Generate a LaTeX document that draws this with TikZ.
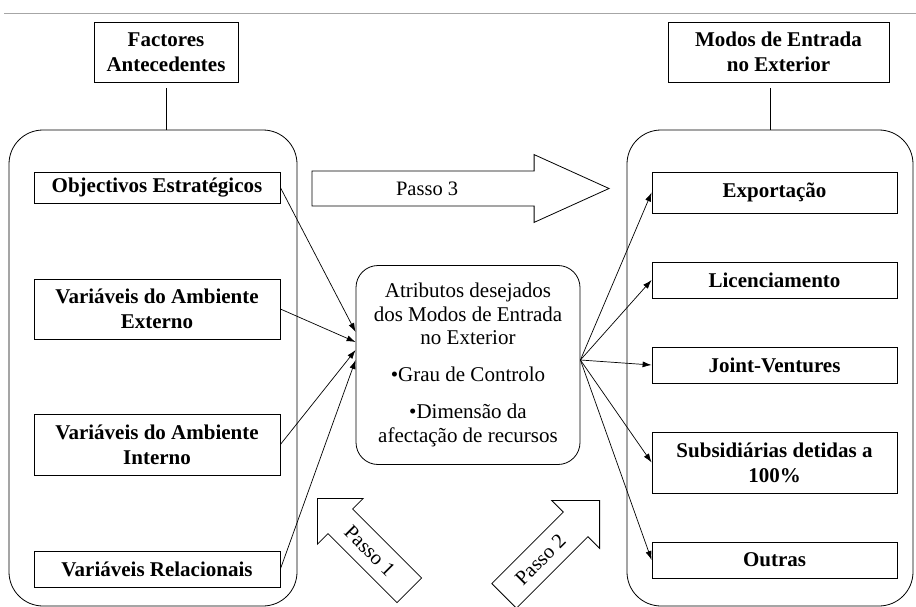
\documentclass[tikz,border=0pt]{standalone}
\usepackage{fontspec}
\setmainfont{Liberation Serif}
\usetikzlibrary{positioning, arrows.meta, shapes.arrows, calc}

\begin{document}
\begin{tikzpicture}[
    x=1pt, y=-1pt,
    header/.style={
      draw, line width=0.8pt, rectangle, align=center, inner sep=0pt,
      font=\bfseries\fontsize{21}{25}\selectfont,
      minimum height=60pt,
    },
    factor/.style={
      draw, line width=0.8pt, rectangle, align=center, inner sep=0pt,
      font=\bfseries\fontsize{21}{25}\selectfont,
      minimum width=246pt, minimum height=36pt,
    },
    group/.style={
      draw, line width=0.8pt, rectangle, rounded corners=34pt,
      minimum height=476pt,
    },
    attr/.style={
      draw, line width=0.8pt, rectangle, rounded corners=22pt, align=center,
      font=\fontsize{21}{23.5}\selectfont, inner sep=0pt,
      minimum width=224pt, minimum height=199pt,
    },
    passo/.style={
      draw, line width=0.8pt, single arrow, inner xsep=0pt, inner ysep=17pt,
    },
    passolabel/.style={font=\fontsize{20.5}{24}\selectfont, inner sep=0pt},
    feed/.style={-{Latex[length=9pt, width=6pt]}, line width=0.7pt},
    link/.style={line width=0.8pt},
]
\useasboundingbox (0,0) rectangle (916,607);
\draw[gray!70, line width=1pt] (4,14) -- (916,14);

% the two columns
\node[group, minimum width=288pt] (lgrp) at (153,368) {};
\node[group, minimum width=286pt] (rgrp) at (770,368) {};

\node[header, minimum width=144pt] (fact) at (166,52) {Factores\\Antecedentes};
\node[header, minimum width=221pt] (modos) at (778.5,52) {Modos de Entrada\\no Exterior};
\draw[link] ($(fact.south)+(0,6)$) -- (fact.south |- lgrp.north);
\draw[link] ($(rgrp.north |- modos.south)+(0,6)$) -- (rgrp.north);

% antecedent factors
\node[factor, minimum height=31pt] (obj) at (157,187.5) {Objectivos Estratégicos};
\node[factor, minimum height=60pt] (ext) at (157,309) {Variáveis do Ambiente\\Externo};
\node[factor, minimum height=61pt] (int) at (157,444.5) {Variáveis do Ambiente\\Interno};
\node[factor] (rel) at (157,569) {Variáveis Relacionais};

% entry modes
\node[factor, minimum width=245pt, minimum height=41pt] (exp) at (774.5,192.5) {Exportação};
\node[factor, minimum width=245pt] (lic) at (774.5,280) {Licenciamento};
\node[factor, minimum width=245pt] (jv) at (774.5,365) {Joint-Ventures};
\node[factor, minimum width=245pt, minimum height=61pt] (sub) at (774.5,462.5) {Subsidiárias detidas a\\100\%};
\node[factor, minimum width=245pt] (out) at (774.5,560) {Outras};

% desired attributes
\node[attr] (attr) at (468,365)
  {Atributos desejados\\dos Modos de Entrada\\no Exterior\\[13.5pt]
   \textbullet Grau de Controlo\\[13.5pt]
   \textbullet Dimensão da\\afectação de recursos};

\foreach \src/\dy in {obj/-33, ext/-23, int/-15, rel/-5}
  \draw[feed] (\src.east) -- ($(attr.west)+(0,\dy)$);
\foreach \dst in {exp, lic, jv, sub, out}
  \draw[feed] ($(attr.east)+(0,-5)$) -- (\dst.west);

% steps
\node[passo, minimum height=297pt, single arrow head extend=16.5pt,
      single arrow tip angle=48.7, anchor=tip] (p3) at (610,188.5) {};
\node[passolabel] (p3t) at ($(p3.tail)!0.387!(p3.tip)$) {Passo 3};

\node[passo, minimum height=130pt, single arrow head extend=15pt,
      rotate=-45, shape border rotate=180, anchor=tip] (p1) at (317,498) {};
\node[passolabel, rotate=-45] (p1t) at ($(p1.tail)!0.43!(p1.tip)$) {Passo 1};

\node[passo, minimum height=135pt, single arrow head extend=16.5pt,
      rotate=45, anchor=tip] (p2) at (600,500) {};
\node[passolabel, rotate=45] (p2t) at ($(p2.tail)!0.38!(p2.tip)$) {Passo 2};
\end{tikzpicture}
\end{document}
